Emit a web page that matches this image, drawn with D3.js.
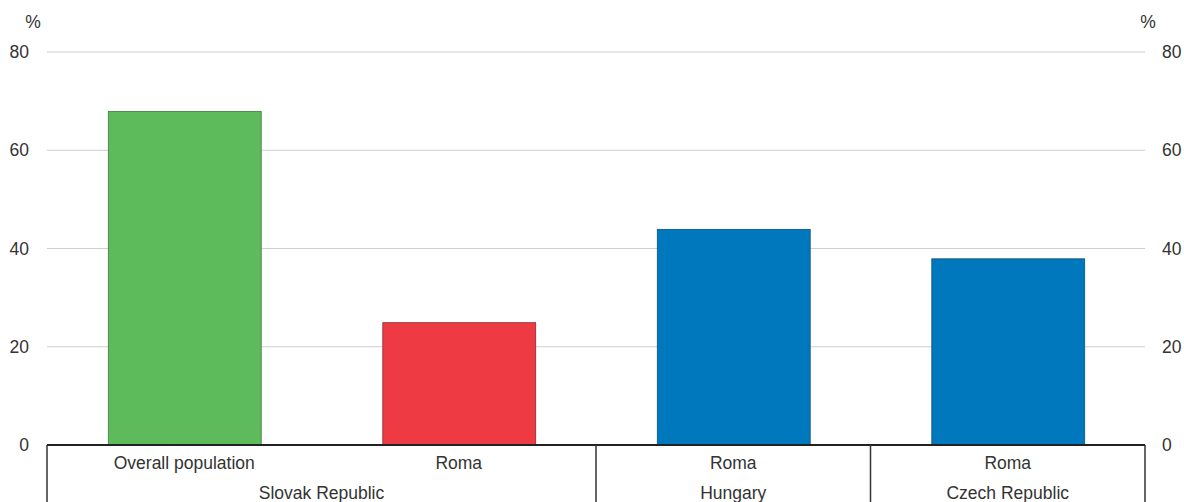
<!DOCTYPE html>
<html><head><meta charset="utf-8">
<script src="https://cdn.jsdelivr.net/npm/d3@7"></script>
<style>body{margin:0;background:#fff}svg{display:block}text{font-family:"Liberation Sans",Arial,sans-serif;fill:#333}</style>
</head><body><div id="chart"></div>
<script>
const categories = ["Overall population", "Roma", "Roma", "Roma"];
const groups = ["Slovak Republic", "Slovak Republic", "Hungary", "Czech Republic"];
const values = [68, 25, 44, 38];
const colors = ["#5DBB5C", "#EE3A43", "#0078BE", "#0078BE"];
const strokes = ["#3f7a3e", "#8a2a2f", "#0a4f7a", "#0a4f7a"];
const yTicks = [0, 20, 40, 60, 80];

const FS = "17.5px";
const W = 1184, H = 502;
const m = {left: 47, right: 39, top: 52, bottom: 57};
const svg = d3.select("#chart").append("svg").attr("width", W).attr("height", H);
const x = d3.scaleBand().domain(d3.range(categories.length)).range([m.left, W - m.right]).paddingInner(0.443).paddingOuter(0.2215);
const y = d3.scaleLinear().domain([0, 80]).range([H - m.bottom, m.top]);

// gridlines
svg.append("g").selectAll("line").data(yTicks.filter(d => d > 0)).join("line")
  .attr("x1", m.left).attr("x2", W - m.right)
  .attr("y1", d => y(d)).attr("y2", d => y(d))
  .attr("stroke", "#cfcfcf").attr("stroke-width", 1);

// axis labels
const yl = d3.axisLeft(y).tickValues(yTicks).tickSize(0).tickPadding(18);
const gl = svg.append("g").attr("transform", `translate(${m.left},0)`).call(yl);
gl.select(".domain").remove();
gl.selectAll("text").style("font-size", FS).style("font-family", '"Liberation Sans",Arial,sans-serif').attr("fill", "#333");
const yr = d3.axisRight(y).tickValues(yTicks).tickSize(0).tickPadding(17);
const gr = svg.append("g").attr("transform", `translate(${W - m.right},0)`).call(yr);
gr.select(".domain").remove();
gr.selectAll("text").style("font-size", FS).style("font-family", '"Liberation Sans",Arial,sans-serif').attr("fill", "#333");

svg.append("text").attr("x", 33).attr("y", 28).attr("text-anchor", "middle").style("font-size", FS).text("%");
svg.append("text").attr("x", 1148).attr("y", 28).attr("text-anchor", "middle").style("font-size", FS).text("%");

// bars
svg.append("g").selectAll("rect").data(values).join("rect")
  .attr("x", (d, i) => x(i) + 0.5).attr("width", x.bandwidth())
  .attr("y", d => y(d) + 0.5).attr("height", d => y(0) - y(d))
  .attr("fill", (d, i) => colors[i]).attr("stroke", (d, i) => strokes[i]).attr("stroke-width", 0.8);

// axis baseline
const y0 = y(0);
svg.append("line").attr("x1", m.left).attr("x2", W - m.right).attr("y1", y0).attr("y2", y0)
  .attr("stroke", "#222").attr("stroke-width", 2);

// group boundaries
const step = x.step();
const bounds = [m.left];
groups.forEach((g, i) => { if (i > 0 && g !== groups[i - 1]) bounds.push(x(i) - x.paddingInner() * step / 2 ); });
bounds.push(W - m.right);
svg.append("g").selectAll("line").data(bounds).join("line")
  .attr("x1", d => d).attr("x2", d => d).attr("y1", y0).attr("y2", H)
  .attr("stroke", "#333").attr("stroke-width", 1.5);

// category labels
svg.append("g").selectAll("text").data(categories).join("text")
  .attr("x", (d, i) => x(i) + x.bandwidth() / 2).attr("y", y0 + 24)
  .attr("text-anchor", "middle").style("font-size", FS).text(d => d);

// group labels
const uniq = [];
groups.forEach((g, i) => { if (i === 0 || g !== groups[i - 1]) uniq.push({name: g, start: i, end: i}); else uniq[uniq.length - 1].end = i; });
svg.append("g").selectAll("text").data(uniq).join("text")
  .attr("x", d => (x(d.start) - x.paddingInner() * step / 2 + x(d.end) + x.bandwidth() + x.paddingInner() * step / 2) / 2)
  .attr("y", y0 + 54).attr("text-anchor", "middle").style("font-size", FS).text(d => d.name);
</script></body></html>
